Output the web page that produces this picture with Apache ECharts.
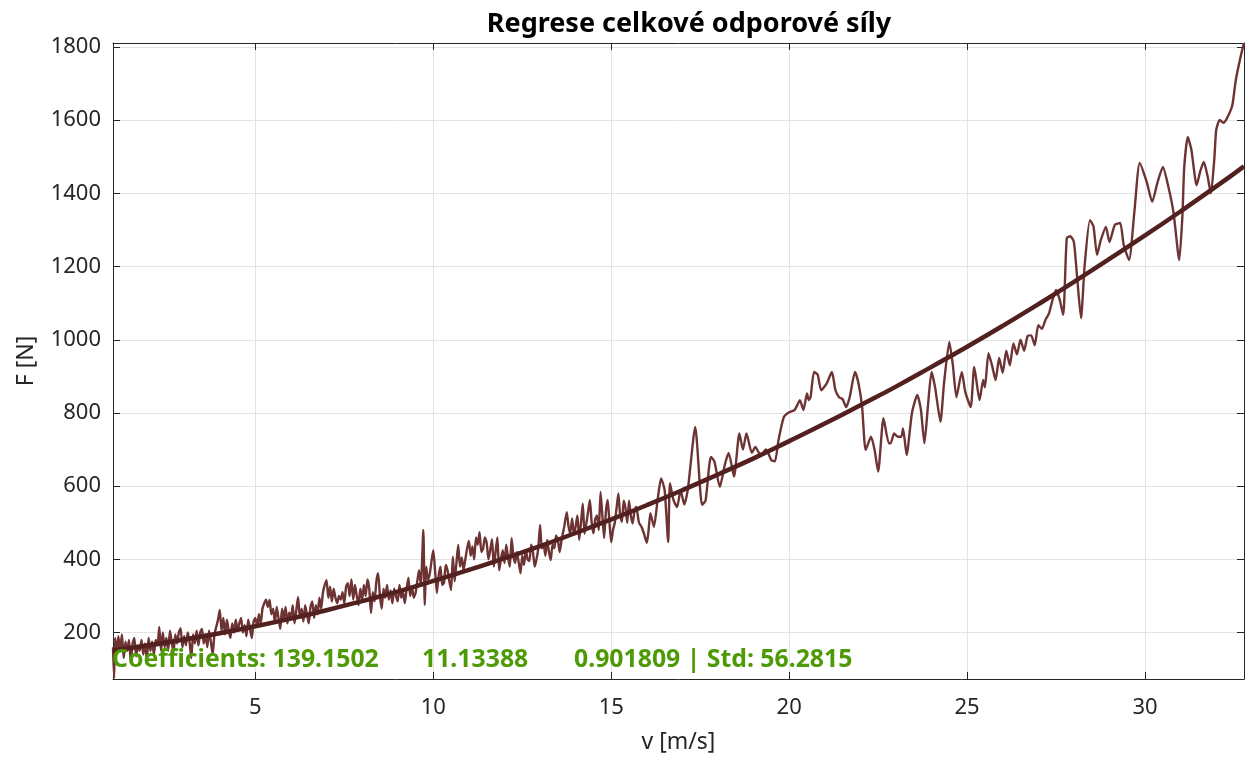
<!DOCTYPE html>
<html>
<head>
<meta charset="utf-8">
<title>Regrese celkové odporové síly</title>
<script src="https://cdn.jsdelivr.net/npm/echarts@6/dist/echarts.min.js"></script>
<style>
  html, body { margin: 0; padding: 0; background: #fff; }
  #main { width: 1245px; height: 760px; }
</style>
</head>
<body>
<div id="main"></div>
<script>
// measured data: speed [m/s] and total resistance force [N]
var vData = [1.00, 1.03, 1.06, 1.10, 1.15, 1.20, 1.25, 1.30, 1.35, 1.40, 1.45, 1.50, 1.55, 1.60, 1.65, 1.70, 1.75, 1.80, 1.85, 1.90,
  1.95, 2.00, 2.05, 2.10, 2.15, 2.20, 2.25, 2.30, 2.35, 2.40, 2.45, 2.50, 2.55, 2.60, 2.65, 2.70, 2.75, 2.80, 2.85, 2.90,
  2.95, 3.00, 3.05, 3.10, 3.15, 3.20, 3.25, 3.30, 3.35, 3.40, 3.45, 3.50, 3.55, 3.60, 3.65, 3.70, 3.75, 3.80, 3.85, 3.90,
  3.95, 4.00, 4.05, 4.10, 4.15, 4.20, 4.25, 4.30, 4.35, 4.40, 4.45, 4.50, 4.55, 4.60, 4.65, 4.70, 4.75, 4.80, 4.85, 4.90,
  4.95, 5.00, 5.05, 5.10, 5.15, 5.20, 5.25, 5.30, 5.35, 5.40, 5.45, 5.50, 5.55, 5.60, 5.65, 5.70, 5.75, 5.80, 5.85, 5.90,
  5.95, 6.00, 6.05, 6.10, 6.15, 6.20, 6.25, 6.30, 6.35, 6.40, 6.45, 6.50, 6.55, 6.60, 6.65, 6.70, 6.75, 6.80, 6.85, 6.90,
  6.95, 7.00, 7.05, 7.10, 7.15, 7.20, 7.25, 7.30, 7.35, 7.40, 7.45, 7.50, 7.55, 7.60, 7.65, 7.70, 7.75, 7.80, 7.85, 7.90,
  7.95, 8.00, 8.05, 8.10, 8.15, 8.20, 8.25, 8.30, 8.35, 8.40, 8.45, 8.50, 8.55, 8.60, 8.65, 8.70, 8.75, 8.80, 8.85, 8.90,
  8.95, 9.00, 9.05, 9.10, 9.15, 9.20, 9.25, 9.30, 9.35, 9.40, 9.45, 9.50, 9.55, 9.60, 9.65, 9.72, 9.76, 9.80, 9.85, 9.90,
  9.95, 10.0, 10.05, 10.1, 10.15, 10.2, 10.25, 10.3, 10.35, 10.4, 10.45, 10.5, 10.55, 10.6, 10.65, 10.7, 10.75, 10.8, 10.85, 10.9,
  10.95, 11.0, 11.05, 11.1, 11.15, 11.2, 11.25, 11.3, 11.35, 11.4, 11.45, 11.5, 11.55, 11.6, 11.65, 11.7, 11.75, 11.8, 11.85, 11.9,
  11.95, 12.0, 12.05, 12.1, 12.15, 12.2, 12.25, 12.3, 12.35, 12.45, 12.5, 12.55, 12.6, 12.65, 12.7, 12.75, 12.8, 12.85, 12.9, 12.95,
  13.0, 13.05, 13.1, 13.15, 13.2, 13.25, 13.3, 13.35, 13.4, 13.45, 13.5, 13.55, 13.6, 13.68, 13.75, 13.8, 13.85, 13.9, 13.95, 14.0,
  14.05, 14.1, 14.15, 14.2, 14.25, 14.3, 14.35, 14.4, 14.45, 14.5, 14.55, 14.6, 14.65, 14.7, 14.75, 14.8, 14.85, 14.9, 14.95, 15.0,
  15.05, 15.1, 15.15, 15.2, 15.25, 15.3, 15.35, 15.4, 15.45, 15.5, 15.55, 15.6, 15.65, 15.7, 15.78, 15.85, 15.92, 16.0, 16.05, 16.1,
  16.2, 16.3, 16.4, 16.5, 16.6, 16.65, 16.75, 16.85, 16.95, 17.05, 17.15, 17.36, 17.5, 17.55, 17.65, 17.8, 17.9, 18.05, 18.2, 18.3,
  18.45, 18.6, 18.7, 18.8, 18.95, 19.05, 19.2, 19.35, 19.5, 19.6, 19.7, 19.85, 20.0, 20.15, 20.25, 20.3, 20.4, 20.5, 20.55, 20.6,
  20.7, 20.8, 20.9, 21.05, 21.2, 21.3, 21.4, 21.5, 21.6, 21.7, 21.85, 21.95, 22.05, 22.15, 22.3, 22.4, 22.5, 22.65, 22.8, 22.85,
  22.95, 23.05, 23.15, 23.2, 23.3, 23.45, 23.6, 23.7, 23.8, 23.9, 24.0, 24.1, 24.25, 24.35, 24.5, 24.6, 24.7, 24.85, 24.95, 25.1,
  25.2, 25.35, 25.45, 25.5, 25.6, 25.7, 25.8, 25.9, 26.0, 26.1, 26.2, 26.3, 26.4, 26.5, 26.6, 26.7, 26.8, 26.9, 27.0, 27.1,
  27.2, 27.3, 27.4, 27.5, 27.6, 27.7, 27.8, 27.9, 28.0, 28.1, 28.2, 28.3, 28.45, 28.55, 28.65, 28.75, 28.9, 29.0, 29.15, 29.3,
  29.4, 29.55, 29.7, 29.85, 30.05, 30.2, 30.35, 30.5, 30.65, 30.8, 30.96, 31.05, 31.1, 31.2, 31.3, 31.45, 31.55, 31.65, 31.75, 31.85,
  31.95, 32.0, 32.1, 32.2, 32.3, 32.45, 32.55, 32.7, 32.78];
var fData = [160, 75, 185, 140, 190, 150, 195, 130, 175, 150, 180, 120, 170, 185, 135, 165, 150, 180, 140, 170,
  125, 185, 150, 175, 140, 180, 165, 215, 150, 200, 160, 185, 150, 205, 175, 145, 195, 170, 200, 212,
  160, 190, 165, 200, 175, 130, 195, 170, 205, 165, 200, 210, 170, 195, 160, 205, 175, 140, 195, 215,
  235, 262, 205, 240, 195, 235, 205, 185, 225, 200, 235, 205, 225, 240, 200, 220, 190, 235, 210, 185,
  230, 240, 215, 250, 225, 265, 280, 290, 270, 289, 250, 265, 225, 270, 240, 210, 265, 235, 270, 225,
  255, 240, 275, 225, 260, 297, 240, 265, 230, 275, 250, 225, 270, 285, 240, 275, 250, 295, 265, 310,
  330, 343, 295, 325, 285, 320, 295, 280, 300, 290, 310, 280, 325, 335, 300, 345, 290, 330, 300, 275,
  320, 290, 330, 300, 345, 320, 253, 310, 285, 340, 362, 300, 265, 320, 295, 330, 290, 315, 280, 320,
  300, 285, 330, 295, 310, 280, 320, 350, 300, 325, 295, 307, 340, 370, 330, 480, 275, 380, 345, 360,
  395, 425, 370, 308, 355, 380, 330, 335, 385, 370, 340, 316, 407, 340, 390, 440, 380, 405, 370, 400,
  430, 450, 410, 435, 400, 460, 440, 474, 420, 430, 460, 445, 400, 425, 455, 380, 420, 460, 370, 400,
  425, 390, 440, 405, 380, 458, 410, 390, 420, 362, 410, 385, 425, 400, 395, 440, 420, 380, 400, 430,
  494, 430, 440, 410, 453, 420, 398, 440, 430, 465, 453, 420, 450, 490, 529, 490, 470, 512, 470, 490,
  520, 453, 500, 553, 470, 498, 530, 562, 500, 471, 510, 520, 480, 584, 520, 458, 530, 562, 500, 447,
  480, 500, 540, 580, 520, 502, 560, 540, 500, 560, 520, 498, 530, 543, 500, 489, 470, 445, 480, 526,
  489, 560, 621, 590, 447, 608, 562, 543, 589, 550, 589, 762, 589, 549, 560, 680, 667, 598, 662, 691,
  626, 744, 700, 744, 691, 707, 684, 700, 671, 668, 726, 789, 802, 808, 826, 835, 808, 853, 835, 843,
  912, 905, 862, 880, 912, 862, 843, 838, 816, 843, 912, 880, 816, 699, 735, 699, 640, 786, 717, 717,
  744, 735, 735, 758, 685, 800, 849, 810, 717, 820, 912, 870, 776, 880, 994, 930, 843, 912, 857, 816,
  926, 835, 890, 870, 963, 930, 890, 950, 910, 970, 930, 990, 960, 1000, 970, 1010, 1012, 985, 1040, 1030,
  1054, 1072, 1109, 1136, 1110, 1068, 1278, 1283, 1267, 1160, 1059, 1200, 1327, 1310, 1232, 1270, 1308, 1267, 1314, 1319,
  1259, 1218, 1350, 1483, 1430, 1377, 1430, 1472, 1420, 1347, 1218, 1340, 1470, 1554, 1520, 1422, 1460, 1486, 1450, 1400,
  1500, 1574, 1601, 1593, 1605, 1640, 1710, 1780, 1811];

// regression curve
var vFit = [1, 2, 3, 4, 5, 6, 7, 8, 9, 10, 11, 12, 13, 14, 15, 16, 17, 18, 19, 20,
  21, 22, 23, 24, 25, 26, 27, 28, 29, 30, 31, 32, 32.78];
var fFit = [151, 165, 181, 198, 217, 238, 261, 286, 312, 341, 371, 403, 436, 472, 509, 548, 589, 632, 676, 723,
  771, 821, 872, 926, 981, 1038, 1097, 1158, 1221, 1285, 1351, 1419, 1474];

var coefTexts = ['Coefficients: 139.1502', '11.13388', '0.901809 | Std: 56.2815'];

var measured = vData.map(function (v, i) { return [v, fData[i]]; });
var fitted = vFit.map(function (v, i) { return [v, fFit[i]]; });

var axisColor = '#262626';
var fontFam = '"Noto Sans", "Open Sans", sans-serif';
var coefFont = 'bold 24.8px ' + fontFam;

var chart = echarts.init(document.getElementById('main'));
chart.setOption({
  animation: false,
  backgroundColor: '#fff',
  title: {
    text: 'Regrese celkové odporové síly',
    left: 684,
    top: 6,
    textAlign: 'center',
    textStyle: { fontFamily: fontFam, fontSize: 27, fontWeight: 'bold', color: '#000' }
  },
  grid: { left: 113, right: 1, top: 43, bottom: 81 },
  xAxis: [{
    type: 'value',
    min: 1,
    max: 32.78,
    name: 'v [m/s]',
    nameLocation: 'middle',
    nameGap: 52,
    nameTextStyle: { fontFamily: fontFam, fontSize: 23, color: axisColor },
    axisLine: { show: true, lineStyle: { color: axisColor } },
    axisTick: { show: true, inside: true, length: 7, lineStyle: { color: axisColor } },
    axisLabel: { fontFamily: fontFam, fontSize: 22, color: axisColor, margin: 18, showMinLabel: false, showMaxLabel: false },
    splitLine: { show: true, lineStyle: { color: '#e3e3e3' } }
  }, {
    type: 'value',
    position: 'top',
    min: 1,
    max: 32.78,
    axisLine: { show: true, lineStyle: { color: axisColor } },
    axisTick: { show: true, inside: true, length: 7, lineStyle: { color: axisColor } },
    axisLabel: { show: false },
    splitLine: { show: false }
  }],
  yAxis: [{
    type: 'value',
    min: 73,
    max: 1811,
    splitNumber: 8,
    name: 'F [N]',
    nameLocation: 'middle',
    nameGap: 75,
    nameTextStyle: { fontFamily: fontFam, fontSize: 23, color: axisColor },
    axisLine: { show: true, lineStyle: { color: axisColor } },
    axisTick: { show: true, inside: true, length: 7, lineStyle: { color: axisColor } },
    axisLabel: {
      fontFamily: fontFam, fontSize: 22, color: axisColor, margin: 12,
      showMinLabel: false, showMaxLabel: false,
      formatter: function (val) { return String(val); }
    },
    splitLine: { show: true, lineStyle: { color: '#e3e3e3' } }
  }, {
    type: 'value',
    position: 'right',
    min: 73,
    max: 1811,
    splitNumber: 8,
    axisLine: { show: true, lineStyle: { color: axisColor } },
    axisTick: { show: true, inside: true, length: 7, lineStyle: { color: axisColor } },
    axisLabel: { show: false },
    splitLine: { show: false }
  }],
  series: [{
    name: 'measured',
    type: 'line',
    data: measured,
    showSymbol: false,
    smooth: 0.2,
    lineStyle: { color: '#6e3434', width: 2.4 },
    z: 3
  }, {
    name: 'fit',
    type: 'line',
    data: fitted,
    showSymbol: false,
    smooth: true,
    lineStyle: { color: '#51201f', width: 4.5 },
    z: 4
  }],
  graphic: [{
    type: 'text', left: 112, top: 647, z: 10,
    style: { text: coefTexts[0], fill: '#4e9a06', font: coefFont }
  }, {
    type: 'text', left: 422, top: 647, z: 10,
    style: { text: coefTexts[1], fill: '#4e9a06', font: coefFont }
  }, {
    type: 'text', left: 574, top: 647, z: 10,
    style: { text: coefTexts[2], fill: '#4e9a06', font: coefFont }
  }]
});
</script>
</body>
</html>
